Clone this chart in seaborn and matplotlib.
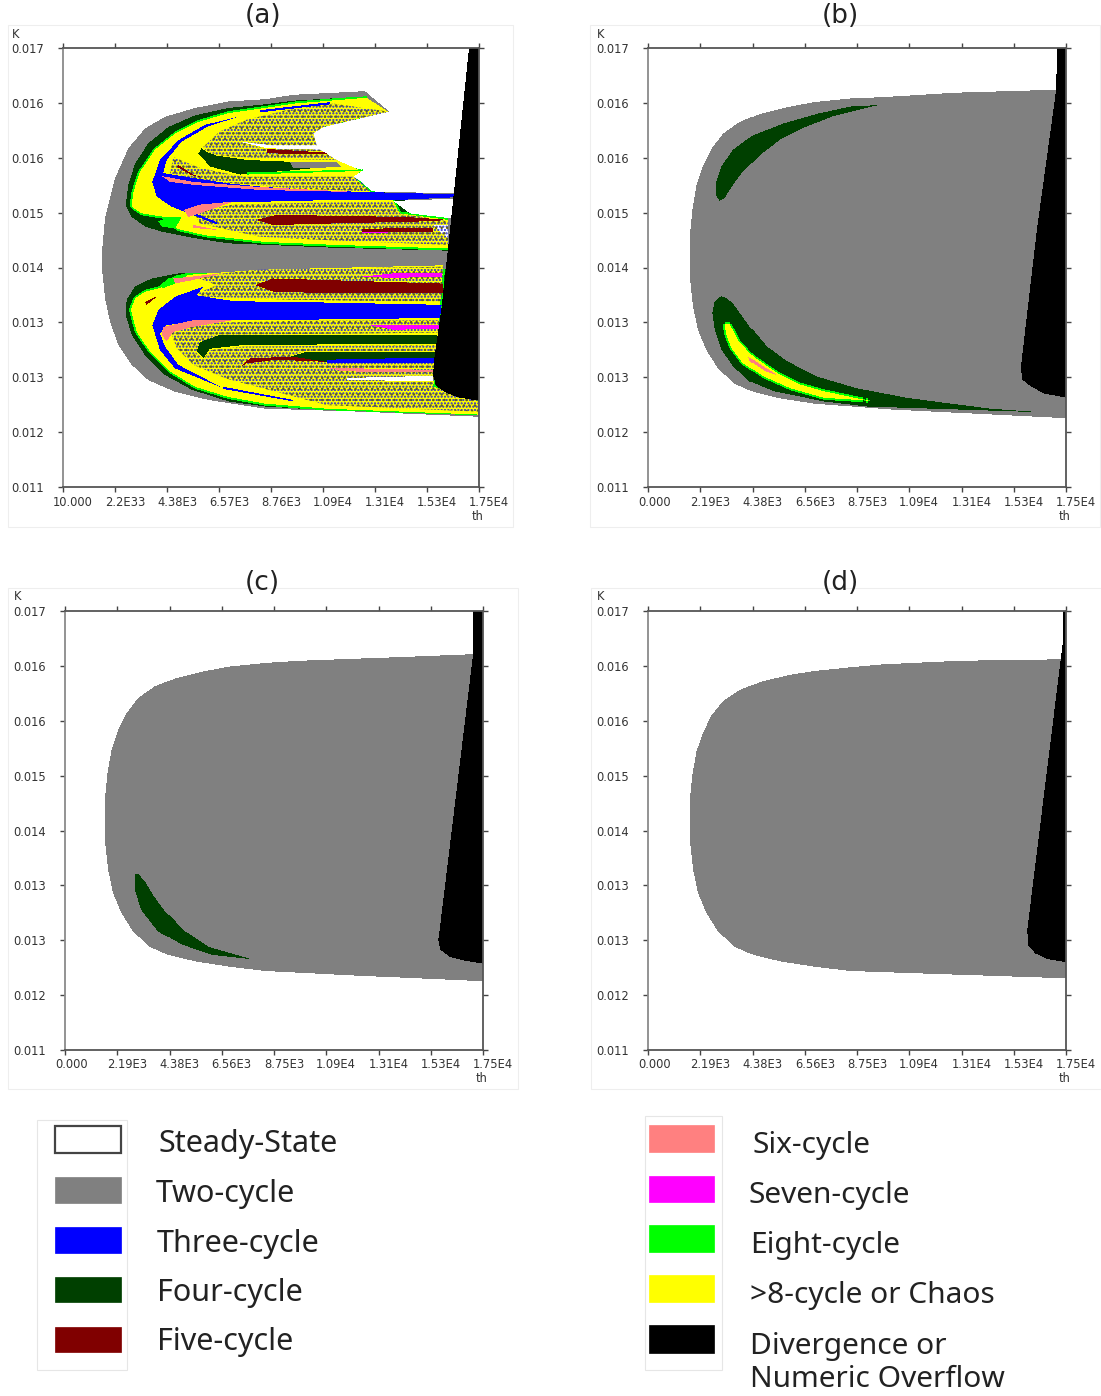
import numpy as np
import matplotlib
matplotlib.use('Agg')
import matplotlib.pyplot as plt
import seaborn as sns
from matplotlib.colors import ListedColormap
from matplotlib.patches import PathPatch, Rectangle
from matplotlib.path import Path

TH_MAX = 17500
K_TOP, K_BOT = 0.017, 0.011
NX, NY = 416, 439
W, H = 1101, 1396

# regime names and colours
STATES = ['Steady-State', 'Two-cycle', 'Three-cycle', 'Four-cycle', 'Five-cycle',
          'Six-cycle', 'Seven-cycle', 'Eight-cycle', '>8-cycle or Chaos',
          'Divergence or\nNumeric Overflow']
COLORS = ['#FFFFFF', '#808080', '#0000FF', '#004000', '#800000',
          '#FF8080', '#FF00FF', '#00FF00', '#FFFF00', '#000000']
STEADY, TWO, THREE, FOUR, FIVE, SIX, SEVEN, EIGHT, CHAOS, DIV = range(10)

K_TICKS = [0.017, 0.01625, 0.0155, 0.01475, 0.014, 0.01325, 0.0125, 0.01175, 0.011]
K_LABELS = ['0.017', '0.016', '0.016', '0.015', '0.014', '0.013', '0.013', '0.012', '0.011']
TH_TICKS = [0, 2187.5, 4375, 6562.5, 8750, 10937.5, 13125, 15312.5, 17500]
TH_LABELS_A = ['10.000', '2.2E33', '4.38E3', '6.57E3', '8.76E3', '1.09E4', '1.31E4', '1.53E4', '1.75E4']
TH_LABELS = ['0.000', '2.19E3', '4.38E3', '6.56E3', '8.75E3', '1.09E4', '1.31E4', '1.53E4', '1.75E4']

# --- panel (a): region outlines as (th, K)
A_GRAY = [(12705, .01641), (9676, .01636), (8496, .01630), (6954, .01627), (5552, .01618), (4290, .01606), (3449, .01590),
          (2748, .01563), (2187, .01522), (1767, .01467), (1626, .01417), (1626, .01403), (1767, .01358), (1977, .01326),
          (2327, .01294), (2888, .01267), (3589, .01246), (4711, .01230), (6113, .01219), (8496, .01207), (12490, .01203),
          (17500, .01196), (17500, .01641)]
A_DARK_UP = [(12772, .01634), (9688, .01628), (8496, .01623), (6954, .01618), (5552, .01608), (4430, .01592), (3589, .01570),
             (3028, .01542), (2748, .01513), (2636, .01485), (2888, .01469), (3449, .01456), (4150, .01449), (5552, .01440),
             (6954, .01433), (8496, .01431), (11370, .01427), (16207, .01423), (16207, .01467), (12772, .01513)]
A_CHAOS_UP = [(12772, .01632), (9688, .01624), (8496, .01618), (6954, .01611), (5692, .01599), (4711, .01583), (3870, .01561),
              (3239, .01531), (2958, .01503), (2888, .01483), (3309, .01474), (4501, .01468), (4781, .01453), (5973, .01444),
              (8496, .01435), (11370, .01431), (16207, .01426), (16207, .01465), (14174, .01474), (13894, .01492), (12913, .01504),
              (12212, .01524), (12562, .01532), (11511, .01547), (11090, .01558), (10670, .01567), (10529, .01583),
              (10950, .01592), (13684, .01613)]
A_EIGHT_UP = [(4010, .01463), (4430, .01469), (4991, .01469), (4711, .01453), (4150, .01456)]
A_DARK_LOW = [(4851, .01392), (3729, .01385), (3028, .01374), (2678, .01356), (2636, .01335), (2888, .01308), (3449, .01280),
              (4290, .01253), (5412, .01233), (6954, .01217), (8496, .01210), (11090, .01205), (17469, .01198), (17469, .01399)]
A_CHAOS_LOW = [(16000, .01403), (8286, .01397), (5272, .01390), (4711, .01386), (4080, .01372), (3449, .01367), (3028, .01358),
               (2860, .01342), (3099, .01312), (3659, .01285), (4501, .01258), (5552, .01237), (6954, .01223), (8496, .01214),
               (11090, .01207), (17469, .01199), (17469, .01217), (15576, .01237)]
A_EIGHT_LOW = [(4010, .01374), (4430, .01385), (5272, .01390), (4711, .01378), (4220, .01372)]
A_WHITE_1 = [(12702, .01641), (13726, .01613), (10950, .01592), (10529, .01583), (10670, .01567), (8847, .01567),
             (7445, .01572), (8566, .01563), (10810, .01561), (11511, .01547), (12282, .01536), (12632, .01533),
             (12212, .01524), (12562, .01517), (12983, .01504), (16700, .01501), (17000, .01604), (17200, .01649),
             (12702, .01649)]
A_WHITE_2 = [(13894, .01491), (14595, .01474), (16348, .01467), (16418, .01494)]
A_WHITE_3 = [(15576, .01458), (16207, .01458), (16207, .01440), (15856, .01449)]

A_SPECKLE_1 = [(5903, .01565), (6604, .01586), (7725, .01602), (9408, .01615), (11370, .01624), (13684, .01613),
               (10950, .01592), (10529, .01583), (10670, .01567), (8847, .01567), (7445, .01572), (8566, .01562),
               (10810, .01561), (11511, .01547), (8286, .01549), (6604, .01553), (6043, .01558)]
A_SPECKLE_2 = [(4641, .01551), (5762, .01536), (7585, .01524), (12212, .01524), (12562, .01517), (12913, .01504),
               (9688, .01508), (5482, .01520), (4501, .01529)]
A_SPECKLE_3 = [(5482, .01476), (7165, .01486), (11090, .01489), (13894, .01490), (14174, .01474), (16207, .01463),
               (16207, .01431), (11370, .01437), (8286, .01442), (5762, .01460)]
A_SPECKLE_4 = [(5482, .01388), (8286, .01397), (16000, .01401), (15927, .01353), (9688, .01356), (5903, .01360),
               (5692, .01365), (6463, .01376)]
A_SPECKLE_5 = [(4501, .01315), (5762, .01324), (9688, .01327), (15857, .01328), (15787, .01311), (9688, .01309),
               (6604, .01308), (5762, .01298), (5594, .01284), (5903, .01274), (6183, .01287), (7585, .01292),
               (15717, .01294), (15717, .01286), (10249, .01286), (9548, .01279), (11090, .01270), (15646, .01270),
               (15576, .01237), (17469, .01218), (17469, .01203), (11090, .01212), (6884, .01248), (5482, .01267),
               (4781, .01290)]

A_INNER_DARK_1 = [(5833, .01563), (5692, .01556), (6183, .01538), (7445, .01527), (9688, .01533), (11511, .01539),
                  (9968, .01544), (7725, .01547), (6463, .01553), (6043, .01558)]
A_WEDGE = [(9548, .01544), (11511, .01544), (11721, .01537), (9688, .01536)]
A_LINE_EIGHT = [(7725, .01530), (12632, .01534), (12632, .01532), (7725, .01527)]
A_BLUE_UP = [(7375, .01606), (5973, .01595), (4851, .01574), (4080, .01547), (3757, .01517), (3940, .01497), (4570, .01483),
             (5131, .01476), (5500, .01482), (6954, .01490), (8496, .01490), (11090, .01492), (13894, .01492), (16488, .01496),
             (16488, .01500), (12913, .01503), (11090, .01505), (8496, .01510), (6954, .01515), (5552, .01522), (4220, .01529),
             (4360, .01547), (4991, .01572), (6113, .01593)]
A_BLUE_ARC_1 = [(5342, .01477), (6463, .01462), (6463, .01459), (5202, .01475)]
A_BLUE_ARC_2 = [(8286, .01615), (11230, .01626), (11230, .01623), (8286, .01612)]
A_PINK_1 = [(4150, .01525), (5482, .01517), (8286, .01510), (12492, .01503), (8286, .01506), (5482, .01513), (4501, .01517)]
A_PINK_2 = [(5089, .01479), (5762, .01486), (7165, .01490), (5762, .01474), (5272, .01469)]
A_PINK_3 = [(5482, .01458), (6604, .01451), (5482, .01454)]
A_FIVE_1 = [(8146, .01465), (8987, .01472), (14455, .01469), (16277, .01465), (15156, .01463), (11090, .01460), (8847, .01458)]
A_FIVE_2 = [(12562, .01453), (15576, .01454), (15576, .01449), (12562, .01449)]
A_SEVEN_1 = [(12562, .01449), (13894, .01448), (12562, .01447)]
A_FIVE_3 = [(8566, .01562), (11090, .01557), (11090, .01555), (8566, .01556)]
A_FIVE_4 = [(4851, .01540), (5482, .01527), (5903, .01523), (5412, .01526), (4781, .01538)]
A_FIVE_7 = [(3449, .01353), (3940, .01361), (3870, .01358), (3519, .01349)]
A_BLUE_LOW = [(5902, .01374), (4711, .01360), (4010, .01342), (3757, .01321), (4080, .01287), (4711, .01262), (6744, .01235),
              (4851, .01267), (4290, .01292), (4080, .01310), (4360, .01321), (5552, .01327), (6814, .01328), (8496, .01328),
              (15857, .01331), (15927, .01349), (9688, .01353), (8496, .01353), (6954, .01355), (5622, .01362)]
A_PINK_4 = [(4641, .01385), (6744, .01392), (5482, .01383), (4711, .01378)]
A_PINK_5 = [(4220, .01319), (5482, .01328), (7165, .01328), (5482, .01319), (4641, .01312), (4361, .01299), (4150, .01308)]
A_FIVE_5 = [(8076, .01376), (8847, .01385), (16000, .01378), (16000, .01365), (11090, .01365), (8847, .01367)]
A_SEVEN_2 = [(12422, .01387), (13894, .01392), (15927, .01393), (15927, .01387), (13894, .01386)]
A_SEVEN_3 = [(12913, .01321), (15857, .01321), (15857, .01316), (13894, .01315)]
A_INNER_DARK_2 = [(5622, .01285), (5762, .01298), (6604, .01308), (15717, .01308), (15717, .01296), (7585, .01294),
                  (6183, .01289), (5903, .01276)]
A_INNER_DARK_3 = [(9548, .01278), (10249, .01285), (15646, .01285), (15646, .01276), (11090, .01271)]
A_BLUE_IN = [(11090, .01274), (15646, .01277), (15646, .01270), (11090, .01270)]
A_PINK_6 = [(11090, .01263), (15576, .01260), (15576, .01257), (11792, .01258)]
A_WHITE_4 = [(11932, .01249), (15576, .01252), (15576, .01245), (11932, .01246)]
A_FIVE_6 = [(7445, .01264), (7865, .01276), (9688, .01278), (11090, .01271), (8987, .01274), (7725, .01269)]
A_BLUE_ARC_3 = [(6744, .01237), (9688, .01219), (9688, .01217), (6744, .01234)]
A_BLACK = [(17080, .017), (17500, .017), (17500, .01218), (16700, .01222), (16160, .01228), (15690, .01238), (15570, .01253),
           (15610, .01274), (15940, .01349), (16200, .01427)]

# --- panel (b)
B_GRAY = [(17114, .01643), (12926, .01639), (9923, .01633), (8459, .01631), (6923, .01626), (5806, .01619), (4689, .01610),
          (3852, .01599), (3154, .01583), (2665, .01562), (2316, .01539), (2037, .01512), (1869, .01480), (1758, .01442),
          (1758, .01387), (1897, .01346), (2107, .01314), (2456, .01287), (2944, .01262), (3642, .01241), (4410, .01230),
          (5527, .01221), (6923, .01214), (10134, .01206), (17500, .01194), (17500, .01643)]
B_BLACK = [(17124, .017), (17500, .017), (17500, .01222), (16556, .01228), (15997, .01238), (15648, .01247), (15606, .01265),
           (16276, .01452), (17086, .01643)]
B_DARK_UP = [(9645, .01622), (8459, .01620), (7063, .01610), (5667, .01597), (4410, .01581), (3573, .01561), (3084, .01538),
             (2847, .01515), (2847, .01499), (3014, .01491), (3224, .01495), (3573, .01513), (4061, .01534), (4690, .01554),
             (5527, .01575), (6504, .01591), (7761, .01607)]
B_DARK_LOW = [(3084, .01361), (2805, .01354), (2707, .01338), (2805, .01315), (3084, .01288), (3573, .01265), (4271, .01244),
              (5248, .01231), (7342, .01217), (9157, .01210), (12926, .01206), (16556, .01202), (14322, .01207), (10832, .01222),
              (8738, .01235), (7063, .01251), (5806, .01272), (4969, .01292), (4271, .01319), (3573, .01351), (3294, .01358)]
B_CHAOS = [(3224, .01322), (3433, .01323), (3782, .01301), (4410, .01278), (5388, .01256), (6365, .01240), (7342, .01231),
           (9227, .01218), (7342, .01222), (5946, .01235), (4829, .01251), (3992, .01269), (3503, .01290), (3294, .01308)]
B_PINK = [(4201, .01278), (5388, .01253), (4899, .01258), (4271, .01272)]

# --- panel (c)
C_GRAY = [(17083, .01641), (14027, .01637), (9840, .01632), (8376, .01629), (6840, .01624), (5723, .01617), (4606, .01608),
          (3769, .01597), (3071, .01581), (2582, .01560), (2233, .01537), (1954, .01510), (1786, .01478), (1675, .01442),
          (1675, .01387), (1814, .01346), (2024, .01314), (2373, .01287), (2861, .01262), (3559, .01241), (4327, .01230),
          (5444, .01221), (6840, .01214), (8376, .01208), (12000, .01202), (17500, .01194), (17500, .01641)]
C_BLACK = [(17083, .017), (17500, .017), (17500, .01218), (16746, .01222), (16119, .01227), (15701, .01237), (15617, .01250),
           (15701, .01271), (17083, .01641)]
C_DARK = [(2931, .01340), (3071, .01341), (3350, .01331), (3699, .01312), (4257, .01287), (5025, .01262), (6002, .01241),
          (7817, .01224), (6142, .01230), (4886, .01244), (3908, .01262), (3210, .01291), (2931, .01319)]

# --- panel (d)
D_GRAY = [(17334, .01634), (13063, .01632), (9800, .01627), (8460, .01623), (6924, .01618), (5807, .01612), (4690, .01603),
          (3853, .01592), (3155, .01577), (2666, .01557), (2317, .01534), (2038, .01508), (1870, .01477), (1759, .01442),
          (1759, .01387), (1898, .01346), (2108, .01314), (2457, .01287), (2945, .01262), (3643, .01241), (4411, .01230),
          (5528, .01221), (6924, .01214), (8460, .01208), (12000, .01204), (17500, .01198), (17500, .01634)]
D_BLACK = [(17376, .017), (17500, .017), (17500, .01220), (16748, .01224), (16204, .01232), (15910, .01243), (15869, .01264),
           (17376, .01660)]

PANELS = [
    dict(title='(a)', box=(63, 479, 48, 487), frame=(8, 513, 25, 527), title_xy=(263, 16), labels=TH_LABELS_A,
         base=[(A_GRAY, TWO), (A_DARK_UP, FOUR), (A_DARK_LOW, FOUR), (A_CHAOS_UP, CHAOS), (A_CHAOS_LOW, CHAOS),
               (A_EIGHT_UP, EIGHT), (A_EIGHT_LOW, EIGHT), (A_WHITE_1, STEADY), (A_WHITE_2, STEADY), (A_WHITE_3, STEADY)],
         speckle=[A_SPECKLE_1, A_SPECKLE_2, A_SPECKLE_3, A_SPECKLE_4, A_SPECKLE_5],
         top=[(A_INNER_DARK_1, FOUR), (A_WEDGE, TWO), (A_LINE_EIGHT, EIGHT), (A_BLUE_UP, THREE), (A_BLUE_ARC_1, THREE),
              (A_BLUE_ARC_2, THREE), (A_PINK_1, SIX), (A_PINK_2, SIX), (A_PINK_3, SIX), (A_FIVE_1, FIVE), (A_FIVE_2, FIVE),
              (A_SEVEN_1, SEVEN), (A_FIVE_3, FIVE), (A_FIVE_4, FIVE), (A_FIVE_7, FIVE), (A_BLUE_LOW, THREE), (A_PINK_4, SIX),
              (A_PINK_5, SIX), (A_FIVE_5, FIVE), (A_SEVEN_2, SEVEN), (A_SEVEN_3, SEVEN), (A_INNER_DARK_2, FOUR),
              (A_INNER_DARK_3, FOUR), (A_BLUE_IN, THREE), (A_PINK_6, SIX), (A_WHITE_4, STEADY), (A_FIVE_6, FIVE),
              (A_BLUE_ARC_3, THREE), (A_BLACK, DIV)]),
    dict(title='(b)', box=(648, 1066, 48, 487), frame=(590, 1100, 25, 527), title_xy=(840, 16), labels=TH_LABELS,
         base=[(B_GRAY, TWO), (B_DARK_UP, FOUR), (B_DARK_LOW, FOUR), (B_CHAOS, CHAOS)], speckle=[],
         top=[(B_PINK, SIX), (B_BLACK, DIV)]),
    dict(title='(c)', box=(65, 483, 611, 1050), frame=(8, 518, 588, 1089), title_xy=(262, 583), labels=TH_LABELS,
         base=[(C_GRAY, TWO), (C_DARK, FOUR)], speckle=[], top=[(C_BLACK, DIV)]),
    dict(title='(d)', box=(648, 1066, 611, 1050), frame=(591, 1101, 588, 1089), title_xy=(840, 583), labels=TH_LABELS,
         base=[(D_GRAY, TWO)], speckle=[], top=[(D_BLACK, DIV)]),
]

sns.set_theme(style='white')
plt.rcParams['font.family'] = ['DejaVu Sans']

cmap = ListedColormap(COLORS)
th_c = (np.arange(NX) + 0.5) / NX * TH_MAX
k_c = K_TOP - (np.arange(NY) + 0.5) / NY * (K_TOP - K_BOT)
tt, kk = np.meshgrid(th_c, k_c)
centers = np.column_stack([tt.ravel(), kk.ravel()])


def paint(grid, outline, state):
    inside = Path(outline + [outline[0]]).contains_points(centers).reshape(grid.shape)
    if state == CHAOS:
        # thin eight-cycle rim where chaos meets the four-cycle band
        rim = inside.copy()
        for axis in (0, 1):
            for step in (-2, -1, 1, 2):
                rim |= np.roll(inside, step, axis=axis)
        grid[rim & (grid == FOUR)] = EIGHT
    grid[inside] = state


def to_cells(outline):
    pts = np.array(outline + [outline[0]])
    return np.column_stack([pts[:, 0] / TH_MAX * NX, (K_TOP - pts[:, 1]) / (K_TOP - K_BOT) * NY])


fig = plt.figure(figsize=(W / 100, H / 100), dpi=100, facecolor='white')


def pixel_axes(left, right, top, bottom):
    return fig.add_axes([left / W, 1 - bottom / H, (right - left) / W, (bottom - top) / H])


# full-figure layer for frames, titles and the legend
page = fig.add_axes([0, 0, 1, 1], zorder=0)
page.set_xlim(0, W)
page.set_ylim(H, 0)
page.axis('off')

for panel in PANELS:
    left, right, top, bottom = panel['box']
    ax = pixel_axes(left, right, top, bottom)
    ax.set_zorder(1)

    base = np.zeros((NY, NX), dtype=int)
    for outline, state in panel['base']:
        paint(base, outline, state)
    sns.heatmap(base, ax=ax, cmap=cmap, vmin=-0.5, vmax=9.5, cbar=False, xticklabels=False, yticklabels=False)

    # the chaotic zones are speckled: texture via dot hatching on top of the yellow
    for outline in panel['speckle']:
        for color, hatch in [('#2020E0', '.....'), ('#60601E', '...')]:
            ax.add_patch(PathPatch(Path(to_cells(outline)), facecolor='none', edgecolor=color, hatch=hatch, lw=0, zorder=2))

    # bands that sit above the speckle
    upper = np.full((NY, NX), -1)
    for outline, state in panel['top']:
        paint(upper, outline, state)
    sns.heatmap(upper, ax=ax, mask=upper < 0, cmap=cmap, vmin=-0.5, vmax=9.5, cbar=False, xticklabels=False, yticklabels=False)
    ax.collections[-1].set_zorder(3)

    ax.set_xlim(0, NX)
    ax.set_ylim(NY, 0)
    ax.set_xticks([t / TH_MAX * NX for t in TH_TICKS])
    ax.set_xticklabels([])
    ax.set_yticks([(K_TOP - k) / (K_TOP - K_BOT) * NY for k in K_TICKS])
    ax.set_yticklabels(K_LABELS, fontsize=8.3, color='#333333')
    ax.tick_params(axis='both', length=3.6, width=1, color='#444444', top=True, right=True, bottom=True, left=True,
                   labeltop=False, labelright=False)
    ax.tick_params(axis='y', pad=10)
    ax.set_xlabel('')
    ax.set_ylabel('')
    for name, spine in ax.spines.items():
        spine.set_visible(True)
        spine.set_linewidth(1.3)
        spine.set_color('#8a8a8a' if name == 'left' else '#555555')
        spine.set_zorder(5)

    # x labels start a little left of their ticks, as in the source
    for t, label in zip(TH_TICKS, panel['labels']):
        page.text(left + t / TH_MAX * (right - left) - 10, bottom + 15, label, fontsize=8.3, color='#333333', ha='left', va='center')

    page.text(left - 51, top - 14, 'K', fontsize=8.3, color='#333333', ha='left', va='center')
    page.text(right - 1, bottom + 29, 'th', fontsize=8.3, color='#333333', ha='center', va='center')
    page.text(*panel['title_xy'], panel['title'], fontsize=19, color='#222222', ha='center', va='center')
    fl, fr, ft, fb = panel['frame']
    page.add_patch(Rectangle((fl, ft), fr - fl, fb - ft, fc='none', ec='#eeeeee', lw=0.8))

# legend
LEFT_ROWS = [(1126, 1153, 159, 1144), (1177, 1203, 156, 1194), (1227, 1253, 157, 1244), (1277, 1302, 157, 1293), (1327, 1352, 157, 1342)]
RIGHT_ROWS = [(1125, 1152, 752, 1146), (1176, 1202, 749, 1196), (1225, 1252, 750, 1246), (1275, 1302, 750, 1295), (1325, 1353, 750, 1363)]

for rows, states, x0, x1, size in [(LEFT_ROWS, STATES[:5], 55, 121, 22), (RIGHT_ROWS, STATES[5:], 649, 714, 21.5)]:
    offset = 0 if x0 == 55 else 5
    for i, (row, label) in enumerate(zip(rows, states)):
        y0, y1, tx, ty = row
        edge = '#444444' if i + offset == STEADY else COLORS[i + offset]
        page.add_patch(Rectangle((x0, y0), x1 - x0, y1 - y0, fc=COLORS[i + offset], ec=edge, lw=1.6 if i + offset == STEADY else 0.5))
        page.text(tx, ty, label, fontsize=size, family='Noto Sans', color='#222222', ha='left', va='center', linespacing=1.16)

for x0, x1, y0, y1 in [(37, 127, 1120, 1370), (645, 722, 1116, 1370)]:
    page.add_patch(Rectangle((x0, y0), x1 - x0, y1 - y0, fc='none', ec='#e6e6e6', lw=0.8))

fig.savefig('out.png', dpi=100)
